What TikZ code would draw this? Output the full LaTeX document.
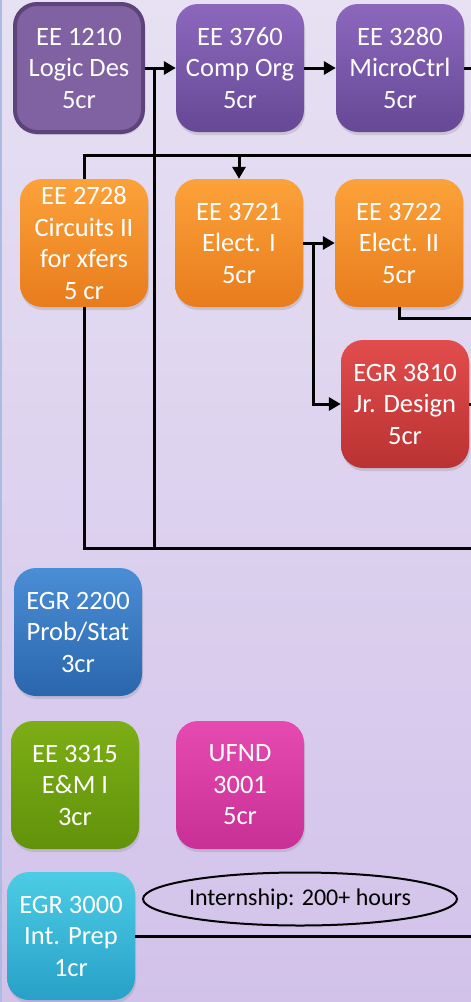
\documentclass[tikz,border=0pt]{standalone}
\usepackage{fontspec}
\setmainfont{Carlito}
\usetikzlibrary{arrows.meta,shapes.geometric,shadows}
\definecolor{bgtop}{RGB}{231,225,243}
\definecolor{bgbot}{RGB}{210,194,234}
\definecolor{edgeblue}{RGB}{170,188,225}
\definecolor{selfill}{RGB}{128,98,162}
\definecolor{selline}{RGB}{92,68,122}
\definecolor{purptop}{RGB}{140,104,188}
\definecolor{purpbot}{RGB}{102,72,150}
\definecolor{orngtop}{RGB}{252,162,58}
\definecolor{orngbot}{RGB}{232,124,28}
\definecolor{reddtop}{RGB}{226,76,76}
\definecolor{reddbot}{RGB}{186,50,50}
\definecolor{blutop}{RGB}{74,142,214}
\definecolor{blubot}{RGB}{42,102,172}
\definecolor{grntop}{RGB}{124,174,22}
\definecolor{grnbot}{RGB}{98,146,10}
\definecolor{pnktop}{RGB}{230,74,176}
\definecolor{pnkbot}{RGB}{200,48,150}
\definecolor{cyntop}{RGB}{76,204,228}
\definecolor{cynbot}{RGB}{40,160,200}

\begin{document}
\begin{tikzpicture}[x=1pt,y=-1pt,>={Triangle[length=12pt,width=13pt]},
    course/.style={rounded corners=22pt,minimum width=128pt,minimum height=128pt,inner sep=0pt,
      text=white,align=center,font=\fontsize{26.5}{31.5}\selectfont,
      drop shadow={shadow xshift=1pt,shadow yshift=-3pt,opacity=0.25}},
    purpsel/.style={fill=selfill,draw=selline,line width=4pt,minimum width=128pt,minimum height=128pt},
    purp/.style={top color=purptop,bottom color=purpbot},
    orng/.style={top color=orngtop,bottom color=orngbot},
    redd/.style={top color=reddtop,bottom color=reddbot},
    blu/.style={top color=blutop,bottom color=blubot},
    grn/.style={top color=grntop,bottom color=grnbot},
    pnk/.style={top color=pnktop,bottom color=pnkbot},
    cyn/.style={top color=cyntop,bottom color=cynbot},
    oval/.style={ellipse,draw,line width=2pt,minimum width=279pt,minimum height=53pt,inner sep=0pt,
      font=\fontsize{24}{28}\selectfont},
    link/.style={line width=3pt}]
          \useasboundingbox (0,0) rectangle (471,1002);
          \shade [top color=bgtop,bottom color=bgbot] (0,0) rectangle (471,1002);
          \fill [edgeblue] (0,0) rectangle (2,1002);
          \node [course,purpsel] (ee1210) at (79,68) {EE 1210\\Logic Des\\5cr};
          \node [course,purp] (ee3760) at (240,68) {EE 3760\\Comp Org\\5cr};
          \node [course,purp] (ee3280) at (400,68) {EE 3280\\MicroCtrl\\5cr};
          \node [course,orng] (ee2728) at (84,243) {EE 2728\\Circuits II\\for xfers\\5 cr};
          \node [course,orng] (ee3721) at (239,243) {EE 3721\\Elect. I\\5cr};
          \node [course,orng] (ee3722) at (399,243) {EE 3722\\Elect. II\\5cr};
          \node [course,redd] (egr3810) at (405,404) {EGR 3810\\Jr. Design\\5cr};
          \node [course,blu] (egr2200) at (78,632) {EGR 2200\\Prob/Stat\\3cr};
          \node [course,grn] (ee3315) at (75,785) {EE 3315\\E\&M I\\3cr};
          \node [course,pnk] (ufnd3001) at (240,785) {UFND\\3001\\5cr};
          \node [course,cyn] (egr3000) at (71,936) {EGR 3000\\Int. Prep\\1cr};
          \node [oval] (intern) at (300,899) {Internship: 200+ hours};
          \coordinate (out1) at (471,68);
          \coordinate (j1) at (154,68);
          \coordinate (b1) at (154,548);
          \coordinate (top) at (471,155);
          \coordinate (t1) at (239,155);
          \coordinate (bot) at (471,548);
          \coordinate (j2) at (313,243);
          \coordinate (out2) at (471,318);
          \coordinate (out3) at (471,404);
          \coordinate (out4) at (471,936);
          \draw [->,link] (ee1210)--(ee3760);
          \draw [->,link] (ee3760)--(ee3280);
          \draw [link] (ee3280)--(out1);
          \draw [link] (j1)--(b1);
          \draw [link] (top)-|(ee2728.north);
          \draw [->,link] (t1)--(ee3721);
          \draw [link] (ee2728.south)|-(bot);
          \draw [->,link] (ee3721)--(ee3722);
          \draw [->,link] (j2)|-(egr3810);
          \draw [link] (ee3722.south)|-(out2);
          \draw [link] (egr3810)--(out3);
          \draw [link] (egr3000)--(out4);
        \end{tikzpicture}
\end{document}
